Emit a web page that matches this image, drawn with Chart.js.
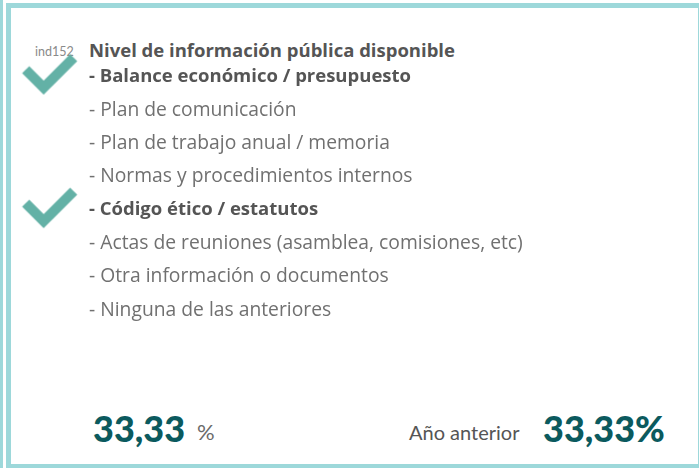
<!DOCTYPE html>
<html>
<head>
<meta charset="utf-8">
<script src="https://cdn.jsdelivr.net/npm/chart.js@4.4.1/dist/chart.umd.min.js"></script>
<style>
  html, body { margin: 0; padding: 0; background: #fff; }
  body { width: 699px; height: 468px; position: relative; overflow: hidden; font-family: "Open Sans", sans-serif; }
  .strip { position: absolute; left: 0; top: 0; width: 3px; height: 468px; background: #9dd8da; }
  .card { position: absolute; left: 6px; top: 3px; width: 697px; height: 466px; box-sizing: border-box; border: 5px solid #9dd8da; }
  .code { position: absolute; left: 35px; top: 46px; font-size: 12.5px; color: #8a8a8a; line-height: 12px; font-family: Lato, sans-serif; }
  .title { position: absolute; left: 89px; top: 40px; font-size: 18.5px; font-weight: bold; color: #555; line-height: 20px; white-space: nowrap; }
  .chartBox { position: absolute; left: 0; top: 0; width: 610px; height: 351px; }
  .big { position: absolute; top: 408px; font-size: 36px; font-weight: 900; color: #0b5a5e; line-height: 40px; white-space: nowrap; font-family: Lato, sans-serif; }
  .small { position: absolute; top: 420px; font-size: 22px; color: #6a6a6a; line-height: 24px; white-space: nowrap; font-family: Lato, sans-serif; }
</style>
</head>
<body>
<div class="strip"></div>
<div class="card"></div>
<div class="code">ind152</div>
<div class="title">Nivel de información pública disponible</div>
<div class="chartBox"><canvas id="lista"></canvas></div>
<div class="big" id="valorActual" style="left:93px"></div>
<div class="small" style="left:197px">%</div>
<div class="small" style="left:409px; color:#555; font-size:20px">Año anterior</div>
<div class="big" id="valorAnterior" style="left:543px"></div>

<script>
const items = [
  "- Balance económico / presupuesto",
  "- Plan de comunicación",
  "- Plan de trabajo anual / memoria",
  "- Normas y procedimientos internos",
  "- Código ético / estatutos",
  "- Actas de reuniones (asamblea, comisiones, etc)",
  "- Otra información o documentos",
  "- Ninguna de las anteriores"
];
const checked = [1, 0, 0, 0, 1, 0, 0, 0];
const currentValue = 33.33;
const previousValue = 33.33;

function fmt(v) {
  return v.toFixed(2).replace(".", ",");
}
document.getElementById("valorActual").textContent = fmt(currentValue);
document.getElementById("valorAnterior").textContent = fmt(previousValue) + "%";

// checkmark drawn once, used as point style
const tick = document.createElement("canvas");
tick.width = 64;
tick.height = 48;
const tctx = tick.getContext("2d");
tctx.strokeStyle = "#63b1a6";
tctx.lineWidth = 10;
tctx.lineCap = "butt";
tctx.lineJoin = "miter";
tctx.beginPath();
tctx.moveTo(32 - 23, 22 - 5);
tctx.lineTo(32 - 5, 22 + 13);
tctx.lineTo(32 + 25, 22 - 17);
tctx.stroke();

const points = items
  .filter((label, i) => checked[i])
  .map(label => ({ x: 0, y: label }));

new Chart(document.getElementById("lista"), {
  type: "scatter",
  data: {
    labels: items,
    datasets: [{
      data: points,
      pointStyle: tick,
      pointRadius: 10,
      showLine: false,
      clip: false
    }]
  },
  options: {
    responsive: true,
    maintainAspectRatio: false,
    animation: false,
    events: [],
    layout: { padding: { top: 60, bottom: 4, left: 0, right: 0 } },
    plugins: { legend: { display: false }, tooltip: { enabled: false } },
    scales: {
      // chart area is 0..76px, the check sits near 44px
      x: { type: "linear", min: -1, max: 0.727, display: false },
      y: {
        type: "category",
        labels: items,
        position: "right",
        offset: true,
        grid: { display: false, drawTicks: false },
        border: { display: false },
        afterFit: function (scale) { scale.width = 534; },
        ticks: {
          padding: 13,
          crossAlign: "near",
          color: ctx => checked[ctx.index] ? "#555" : "#707070",
          font: ctx => ({
            family: "Open Sans",
            size: checked[ctx.index] ? 18.5 : 19.3,
            weight: checked[ctx.index] ? "bold" : "normal"
          })
        }
      }
    }
  }
});
</script>
</body>
</html>
